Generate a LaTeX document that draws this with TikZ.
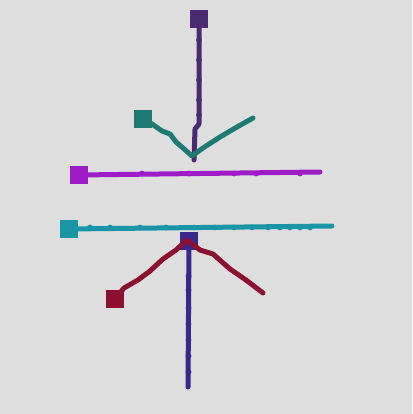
\documentclass[tikz,border=0pt]{standalone}
\begin{document}
\begin{tikzpicture}[x=1pt,y=-1pt,
  sq/.style={draw=none,fill=#1,minimum size=18pt,inner sep=0pt,outer sep=0pt},
  ln/.style={draw=#1,line width=5pt,line join=round,line cap=round},
  bead/.style={fill=#1,draw=none,circle,minimum size=5.8pt,inner sep=0pt}]
\definecolor{bgc}{RGB}{222,222,222}
\definecolor{cTop}{RGB}{74,42,112}
\definecolor{cTeal}{RGB}{30,122,112}
\definecolor{cMag}{RGB}{158,28,200}
\definecolor{cCyan}{RGB}{24,150,166}
\definecolor{cBlue}{RGB}{56,40,142}
\definecolor{cRed}{RGB}{140,16,50}
\fill[bgc] (0,0) rectangle (412,414);
\useasboundingbox (0,0) rectangle (412,414);
% coordinates
\coordinate (topend) at (194,160);
\coordinate (tealv) at (192,156);
\coordinate (tealend) at (253,118);
\coordinate (magend) at (320,172);
\coordinate (cyanend) at (332,226);
\coordinate (blueend) at (188,387);
\coordinate (redtop) at (187,240);
\coordinate (redend) at (263,293);
% squares (named, drawn first so lines start at their centres)
\path (199,19) node[sq=cTop] (top) {}
      (143,119) node[sq=cTeal] (teal) {}
      (79,175) node[sq=cMag] (mag) {}
      (69,229) node[sq=cCyan] (cyan) {}
      (189,241) node[sq=cBlue] (blue) {}
      (115,299) node[sq=cRed] (red) {};
% lines
\draw[ln=cTop] (top.center) -- (199,124) -- (195,129) -- (topend);
\draw[ln=cTeal] (teal.center) -- (152,124) -- (162,131) -- (170,134) -- (176,142) -- (183,148) -- (tealv) -- (203,148) -- (220,137) -- (237,127) -- (tealend);
\draw[ln=cMag] (mag.center) -- (magend);
\draw[ln=cCyan] (cyan.center) -- (cyanend);
\draw[ln=cBlue] (blue.center) -- (blueend);
% beads
\foreach \x in {142,189,234,256,300} \node[bead=cMag] at (\x,173.5) {};
\foreach \x in {90,110,140,166,194,215,234,252,268,280,290,300,310} \node[bead=cCyan] at (\x,227.5) {};
\foreach \y in {276,290,308,324,340,356,372} \node[bead=cBlue] at (188.5,\y) {};
\foreach \y in {40,60,80,100,115} \node[bead=cTop] at (199,\y) {};
% squares on top
\node[sq=cTop] at (top) {};
\node[sq=cTeal] at (teal) {};
\node[sq=cMag] at (mag) {};
\node[sq=cCyan] at (cyan) {};
\node[sq=cBlue] at (blue) {};
% red path drawn over the blue square, as in the reference
\draw[ln=cRed] (red.center) -- (124,288) -- (138,280) -- (150,271) -- (163,259) -- (176,250) -- (redtop) -- (200,250) -- (213,254) -- (230,269) -- (246,280) -- (redend);
\node[sq=cRed] at (red) {};
\end{tikzpicture}
\end{document}
